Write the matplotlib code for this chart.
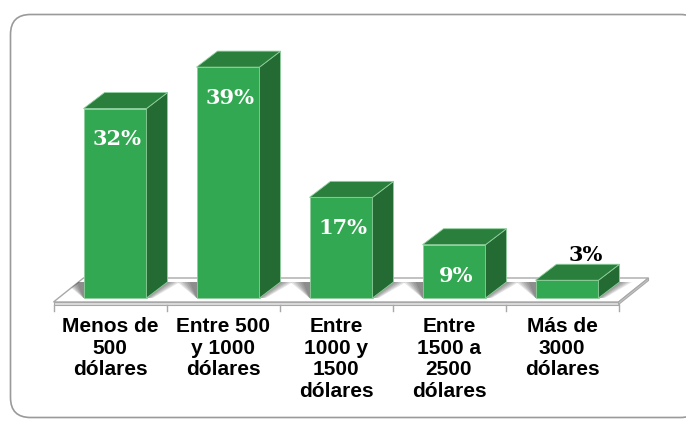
import matplotlib.pyplot as plt
from matplotlib.patches import Polygon, FancyBboxPatch

categorias = ['Menos de\n500\ndólares', 'Entre 500\ny 1000\ndólares',
              'Entre\n1000 y\n1500\ndólares', 'Entre\n1500 a\n2500\ndólares',
              'Más de\n3000\ndólares']
porcentajes = [32, 39, 17, 9, 3]

frente = '#33a852'
tapa = '#2a7f3c'
lado = '#236b32'

# px scale of the plot area
PX_X = 113.0
PX_Y = 5.92
X0, Y0 = 115.0, 298.0
W, H = 686, 421

fig = plt.figure(figsize=(W / 100, H / 100), dpi=100)

# background axes in pixels, only for the rounded frame
bg = fig.add_axes([0, 0, 1, 1])
bg.set_xlim(0, W)
bg.set_ylim(H, 0)
bg.axis('off')
bg.add_patch(FancyBboxPatch((10.5, 14.5), 690, 403,
                            boxstyle='round,pad=0,rounding_size=20',
                            fc='white', ec='#9a9a9a', lw=1.2))

ax = fig.add_axes([0, 0, 1, 1])
ax.patch.set_alpha(0)
ax.set_xlim(-X0 / PX_X, (W - X0) / PX_X)
ax.set_ylim((Y0 - H) / PX_Y, Y0 / PX_Y)
ax.axis('off')

half = 31.5 / PX_X        # half width of front face
bdx, bdy = 21 / PX_X, 16 / PX_Y     # bar depth
fox, foy = -5 / PX_X, -4 / PX_Y     # floor front plane offset
fdx, fdy = 30 / PX_X, 24 / PX_Y     # floor depth
n = len(porcentajes)

# floor
x_l, x_r = -0.5 + fox, n - 0.5 + fox
piso = Polygon([(x_l, foy), (x_r, foy), (x_r + fdx, foy + fdy),
                (x_l + fdx, foy + fdy)], closed=True,
               fc='white', ec='#a8a8a8', lw=1.0, zorder=1)
ax.add_patch(piso)
slab = 2.5 / PX_Y
ax.add_patch(Polygon([(x_l, foy), (x_r, foy), (x_r, foy - slab),
                      (x_l, foy - slab)], closed=True,
                     fc='#dcdcdc', ec='#a8a8a8', lw=0.8, zorder=1))
ax.add_patch(Polygon([(x_r, foy), (x_r + fdx, foy + fdy),
                      (x_r + fdx, foy + fdy - slab), (x_r, foy - slab)],
                     closed=True, fc='#c8c8c8', ec='#a8a8a8', lw=0.8,
                     zorder=1))

# tick marks at category boundaries
for k in range(n + 1):
    xb = k - 0.5 + fox
    ax.plot([xb, xb], [foy - slab, foy - slab - 6 / PX_Y],
            color='#a8a8a8', lw=1.0, zorder=1)

# soft shadows on the floor
top = foy + fdy
for i in range(n):
    for m in range(6):
        e = m * 2.5 / PX_X
        sh = Polygon([(i - half, 0), (i + half + e * 0.5, 0),
                      (i + half + bdx + e, bdy),
                      (i - half - 0.06 - e, bdy)],
                     closed=True, fc='#303030', ec='none', alpha=0.12,
                     zorder=2)
        ax.add_patch(sh)
        sh.set_clip_path(piso)

# bars
for i, v in enumerate(porcentajes):
    xl, xr = i - half, i + half
    ax.add_patch(Polygon([(xl, 0), (xr, 0), (xr, v), (xl, v)], closed=True,
                         fc=frente, ec='#8fcf9c', lw=0.6, zorder=3))
    ax.add_patch(Polygon([(xr, 0), (xr + bdx, bdy), (xr + bdx, v + bdy),
                          (xr, v)], closed=True,
                         fc=lado, ec='#8fcf9c', lw=0.6, zorder=3))
    ax.add_patch(Polygon([(xl, v), (xr, v), (xr + bdx, v + bdy),
                          (xl + bdx, v + bdy)], closed=True,
                         fc=tapa, ec='#8fcf9c', lw=0.6, zorder=3))
    if v >= 5:
        ax.text(i + 0.02, v - 5.2, f'{v}%', color='white', ha='center',
                va='center', fontsize=15, fontweight='bold',
                family='DejaVu Serif', zorder=4)
    else:
        ax.text(i + 0.17, v + 4.3, f'{v}%', color='black', ha='center',
                va='center', fontsize=15, fontweight='bold',
                family='DejaVu Serif', zorder=4)

# category labels
for i, c in enumerate(categorias):
    ax.text(i + fox, (Y0 - 317) / PX_Y, c, ha='center', va='top',
            fontsize=15, fontweight='bold', family='Liberation Sans',
            linespacing=1.17, zorder=4)

fig.savefig('out.png', dpi=100)
